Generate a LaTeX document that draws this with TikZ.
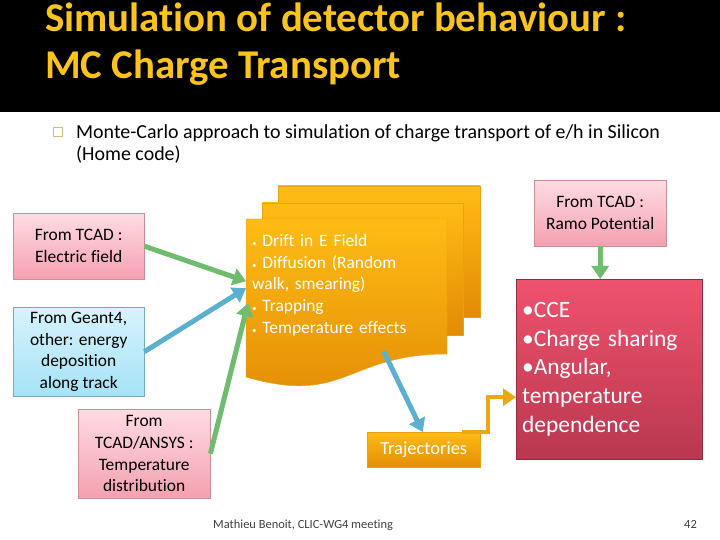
\documentclass[tikz,border=0pt]{standalone}
\usepackage{fontspec}
\setmainfont{Carlito}[Ligatures=NoCommon]
\usetikzlibrary{arrows.meta}

\definecolor{titleyellow}{RGB}{250,195,30}
\definecolor{pinktop}{RGB}{255,220,227}
\definecolor{pinkbot}{RGB}{244,160,176}
\definecolor{pinkedge}{RGB}{205,140,150}
\definecolor{bluetop}{RGB}{215,243,251}
\definecolor{bluebot}{RGB}{165,226,246}
\definecolor{blueedge}{RGB}{120,170,190}
\definecolor{redtop}{RGB}{240,82,108}
\definecolor{redbot}{RGB}{185,55,80}
\definecolor{orangetop}{RGB}{255,188,20}
\definecolor{orangebot}{RGB}{226,140,5}
\definecolor{orangeedge}{RGB}{232,160,20}
\definecolor{arrowgreen}{RGB}{112,188,110}
\definecolor{arrowblue}{RGB}{90,176,206}
\definecolor{arroworange}{RGB}{236,168,20}
\definecolor{bulletcol}{RGB}{210,190,120}

\tikzset{
  srcbox/.style={draw=pinkedge, top color=pinktop, bottom color=pinkbot, align=center,
                 anchor=north west, inner sep=1bp, font=\fontsize{17.5}{21.7}\selectfont},
  geantbox/.style={srcbox, draw=blueedge, top color=bluetop, bottom color=bluebot},
  sheet/.style={draw=orangeedge, line width=0.4bp, top color=orangetop, bottom color=orangebot},
  feed/.style={line width=5bp, -{Triangle[length=13bp,width=17bp]}},
}

\begin{document}
\begin{tikzpicture}[x=1bp, y=-1bp]
  \useasboundingbox (0,0) rectangle (720,540);
  % title bar
  \fill[black] (0,0) rectangle (720,112);
  \node[anchor=base west, align=left, inner sep=0, text=titleyellow,
        font=\fontsize{41}{48}\selectfont\bfseries] (title) at (45,79)
       {Simulation of detector behaviour :\\MC Charge Transport};

  % bullet line
  \draw[bulletcol, line width=0.8bp] (53,127) rectangle (62,136);
  \node[anchor=base west, align=left, inner sep=0, font=\fontsize{20}{23}\selectfont] (intro) at (76,161)
       {Monte-Carlo approach to simulation of charge transport of e/h in Silicon\\(Home code)};

  % input boxes
  \node[srcbox, minimum width=131bp, minimum height=66bp] (efield) at (13,213)
       {From TCAD :\\Electric field};
  \node[geantbox, minimum width=131bp, minimum height=89bp] (geant) at (13,307)
       {From Geant4,\\other: energy\\deposition\\along track};
  \node[srcbox, minimum width=132bp, minimum height=89bp] (temp) at (78,409)
       {From\\TCAD/ANSYS :\\Temperature\\distribution};
  \node[srcbox, minimum width=132bp, minimum height=66bp] (ramo) at (534,180)
       {From TCAD :\\Ramo Potential};

  % stacked sheets
  \shade[sheet] (278,186) rectangle (480,317);
  \shade[sheet] (262,203) rectangle (463,335);
  \shade[sheet] (246,219) -- (447,219) -- (447,354)
       .. controls (346,354) and (346,406) .. (246,377) -- cycle;
  \node[anchor=north west, minimum width=201bp, minimum height=132bp, inner xsep=6bp,
        text width=189bp, align=left, text=white, font=\fontsize{17.5}{21.7}\selectfont] (drift) at (246,219)
       {{\small\textbullet} Drift in E Field\\{\small\textbullet} Diffusion (Random\\walk, smearing)\\{\small\textbullet} Trapping\\{\small\textbullet} Temperature effects};

  \node[anchor=north west, minimum width=113bp, minimum height=35bp, inner sep=0, sheet,
        text=white, font=\fontsize{18.5}{20}\selectfont] (traj) at (367,432) {Trajectories};

  % result box
  \node[anchor=north west, minimum width=186bp, minimum height=180bp, inner xsep=6bp,
        text width=174bp, align=left, draw=redbot!80!black, line width=0.4bp,
        top color=redtop, bottom color=redbot, text=white,
        font=\fontsize{23.5}{29}\selectfont] (result) at (516,279)
       {\textbullet CCE\\\textbullet Charge sharing\\\textbullet Angular,\\temperature\\dependence};

  % connectors
  \draw[feed, arrowgreen] (efield.east) -- ([yshift=4bp]drift.west);
  \draw[feed, arrowblue] (geant.east) -- ([yshift=-3bp]drift.west);
  \draw[feed, arrowgreen] (temp.east) -- ([xshift=2bp,yshift=-18bp]drift.west);
  \draw[feed, arrowblue] ([xshift=37bp]drift.south) -- ([xshift=-1bp]traj.north);
  \draw[feed, arrowgreen] (ramo.south) -- (ramo.south |- result.north);
  \draw[feed, arroworange, line width=4bp] ([xshift=-18bp]traj.north east) -- ++(26,0)
       |- ([yshift=-28bp]result.west);

  % footer
  \node[anchor=base west, inner sep=0, text=black!75, font=\fontsize{12.5}{14}\selectfont] (footer) at (213,528)
       {Mathieu Benoit, CLIC-WG4 meeting};
  \node[anchor=base east, inner sep=0, text=black!75, font=\fontsize{12.5}{14}\selectfont] (page) at (697,528) {42};
\end{tikzpicture}
\end{document}
